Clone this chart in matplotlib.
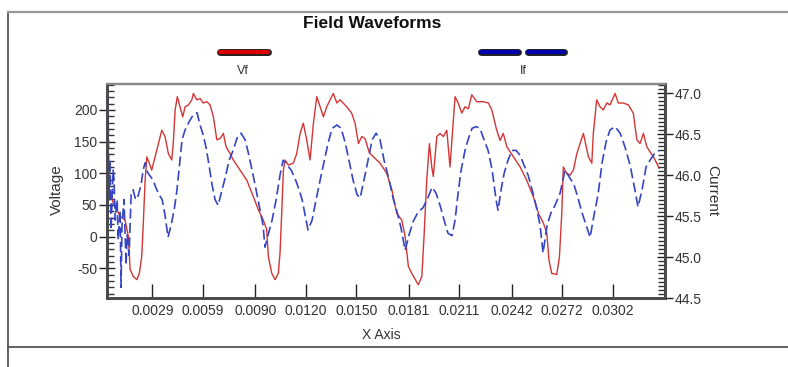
import numpy as np
import matplotlib
matplotlib.use("Agg")
import matplotlib.pyplot as plt
from matplotlib.lines import Line2D
from matplotlib.ticker import MultipleLocator, FormatStrFormatter
import matplotlib.patheffects as pe

plt.rcParams['font.family'] = ['Liberation Sans', 'DejaVu Sans']
plt.rcParams['axes.unicode_minus'] = False

# Vf (field voltage), time in ms
vf_time_ms = [0.21, 0.59, 0.99, 1.28, 1.48, 1.58, 1.77, 1.98, 2.13, 2.27, 2.37, 2.47, 2.57,
              2.72, 2.86, 3.06, 3.26, 3.46, 3.65, 3.85, 4.05, 4.15, 4.25, 4.38, 4.54, 4.70,
              4.84, 5.04, 5.24, 5.33, 5.53, 5.73, 5.92, 6.13, 6.32, 6.52, 6.72, 6.92, 7.11,
              7.27, 7.51, 7.70, 8.10, 8.50, 8.89, 9.19, 9.48, 9.68, 9.78, 9.98, 10.18, 10.37,
              10.47, 10.57, 10.67, 10.77, 10.97, 11.26, 11.46, 11.66, 11.85, 12.06, 12.25,
              12.45, 12.65, 12.85, 13.04, 13.24, 13.44, 13.63, 13.84, 14.03, 14.43, 14.72,
              14.92, 15.12, 15.32, 15.51, 15.71, 15.81, 16.40, 16.80, 17.10, 17.39, 17.69,
              17.89, 18.08, 18.28, 18.67, 18.88, 19.01, 19.17, 19.33, 19.47, 19.56, 19.77,
              19.96, 20.16, 20.36, 20.55, 20.71, 20.85, 21.05, 21.25, 21.44, 21.64, 21.84,
              22.14, 22.53, 22.83, 23.03, 23.32, 23.52, 23.71, 23.92, 24.31, 24.71, 25.10,
              25.49, 25.79, 26.09, 26.29, 26.42, 26.58, 26.88, 27.04, 27.18, 27.27, 27.47,
              27.67, 27.87, 28.07, 28.46, 28.76, 28.96, 29.05, 29.25, 29.45, 29.64, 29.85,
              30.04, 30.34, 30.53, 30.83, 31.13, 31.42, 31.63, 31.82, 32.02, 32.22, 32.41,
              32.61, 32.81, 32.95]
vf_volts = [79, 53, 32, 26, 0, -52, -63, -68, -58, -31, 26, 89, 126,
            116, 105, 126, 147, 168, 158, 131, 121, 152, 200, 221, 205, 189,
            205, 208, 216, 226, 216, 218, 211, 213, 208, 189, 153, 155, 163,
            142, 131, 121, 105, 89, 63, 42, 26, 11, -32, -58, -68, -58,
            -26, 37, 105, 121, 113, 116, 131, 163, 179, 152, 121,
            179, 221, 205, 189, 205, 216, 226, 211, 216, 205, 195,
            179, 147, 158, 155, 137, 131, 116, 100, 74, 37, 26,
            0, -47, -58, -76, -63, 0, 89, 147, 110, 95, 158,
            163, 158, 168, 110, 168, 221, 210, 195, 205, 202, 224,
            213, 213, 211, 200, 168, 152, 163, 142, 126, 110, 89,
            63, 37, 21, 6, -37, -58, -60, -32, 37, 110, 100,
            97, 105, 131, 163, 126, 116, 163, 216, 205, 200, 211,
            208, 226, 211, 211, 208, 195, 153, 147, 163, 142, 134,
            126, 116, 108]

# If (field current), time in ms
if_time_ms = [0.21, 0.27, 0.33, 0.39, 0.45, 0.57, 0.63, 0.69, 0.81, 0.87, 0.99, 1.04, 1.10,
              1.22, 1.34, 1.40, 1.52, 1.64, 1.76, 1.88, 1.99, 2.11, 2.23, 2.35, 2.47, 2.59,
              2.76, 2.94, 3.12, 3.30, 3.48, 3.65, 3.83, 4.01, 4.19, 4.36, 4.54, 4.66, 4.84,
              5.08, 5.31, 5.55, 5.73, 5.91, 6.09, 6.26, 6.44, 6.62, 6.80, 7.03, 7.21, 7.45,
              7.69, 7.92, 8.16, 8.40, 8.58, 8.81, 9.05, 9.29, 9.46, 9.58, 9.76, 10.00, 10.24,
              10.47, 10.65, 10.89, 11.13, 11.36, 11.60, 11.78, 11.96, 12.13, 12.37, 12.61,
              12.85, 13.08, 13.32, 13.56, 13.85, 14.09, 14.33, 14.56, 14.80, 15.04, 15.22,
              15.45, 15.69, 15.93, 16.17, 16.40, 16.64, 16.94, 17.17, 17.41, 17.65, 17.89,
              18.12, 18.36, 18.66, 18.95, 19.25, 19.49, 19.72, 19.96, 20.20, 20.43, 20.67,
              20.85, 21.03, 21.21, 21.44, 21.62, 21.86, 22.10, 22.33, 22.57, 22.81, 23.05,
              23.28, 23.40, 23.58, 23.76, 23.99, 24.23, 24.47, 24.71, 24.94, 25.18, 25.42,
              25.65, 25.89, 26.07, 26.31, 26.54, 26.78, 27.08, 27.37, 27.67, 27.91, 28.14,
              28.38, 28.62, 28.86, 29.09, 29.33, 29.57, 29.80, 30.04, 30.34, 30.64, 30.93,
              31.23, 31.46, 31.70, 31.94, 32.18, 32.41, 32.71, 32.95]
if_amps = [46.30, 46.98, 45.70, 46.18, 45.33, 46.06, 45.94, 45.45, 45.70, 45.21, 45.57, 44.63, 45.39,
           45.70, 44.90, 45.27, 45.02, 45.76, 45.82, 45.72, 45.70, 45.79, 45.88, 46.06, 46.15, 46.04,
           45.99, 45.94, 45.84, 45.76, 45.70, 45.51, 45.24, 45.39, 45.57, 45.82, 46.18, 46.43, 46.55,
           46.65, 46.73, 46.76, 46.61, 46.49, 46.33, 46.12, 45.88, 45.70, 45.63, 45.82, 45.96, 46.18,
           46.30, 46.45, 46.51, 46.43, 46.28, 46.06, 45.82, 45.57, 45.39, 45.12, 45.27, 45.45, 45.70,
           46.00, 46.18, 46.12, 46.06, 45.96, 45.82, 45.70, 45.51, 45.33, 45.45, 45.70,
           45.94, 46.16, 46.39, 46.57, 46.61, 46.57, 46.40, 46.18, 45.94, 45.76, 45.72,
           45.94, 46.18, 46.43, 46.51, 46.43, 46.18, 45.94, 45.72, 45.55, 45.35, 45.08,
           45.27, 45.43, 45.55, 45.60, 45.73, 45.85, 45.78, 45.63, 45.45, 45.29, 45.26,
           45.45, 45.78, 46.06, 46.30, 46.43, 46.57, 46.59, 46.57, 46.43, 46.30, 46.06,
           45.70, 45.57, 45.82, 46.02, 46.18, 46.30, 46.30, 46.24, 46.12, 46.00, 45.82,
           45.63, 45.39, 45.05, 45.39, 45.54, 45.63, 45.78, 46.06, 45.96, 45.88, 45.72,
           45.54, 45.39, 45.24, 45.51, 45.76, 46.15, 46.40, 46.55, 46.59, 46.51, 46.34,
           46.12, 45.88, 45.61, 45.82, 46.10, 46.18, 46.27, 46.30]

x_tick_labels = ['0.0029', '0.0059', '0.0090', '0.0120', '0.0150',
                 '0.0181', '0.0211', '0.0242', '0.0272', '0.0302']


def main():
    fig = plt.figure(figsize=(7.88, 3.67), dpi=100)
    ax = fig.add_axes([0.1358, 0.188, 0.7081, 0.5831])
    ax2 = ax.twinx()

    ax.plot(np.array(vf_time_ms) / 1000.0, vf_volts, color='#d43535', lw=1.0, zorder=3)
    ax2.plot(np.array(if_time_ms) / 1000.0, if_amps, color='#3545c4', lw=1.2,
             dashes=(6, 2.6), zorder=2)

    ax.set_xlim(0.00021, 0.0333)
    ax.set_ylim(-97, 241)
    ax2.set_ylim(44.5, 47.11)

    ax.set_xticks([float(s) for s in x_tick_labels])
    ax.set_xticklabels(x_tick_labels)
    ax.yaxis.set_major_locator(MultipleLocator(50))
    ax.yaxis.set_minor_locator(MultipleLocator(10))
    ax2.yaxis.set_major_locator(MultipleLocator(0.5))
    ax2.yaxis.set_minor_locator(MultipleLocator(0.05))
    ax2.yaxis.set_major_formatter(FormatStrFormatter('%.1f'))

    spine_col = '#4a4a4a'
    for a in (ax, ax2):
        for side in ('left', 'right', 'bottom'):
            a.spines[side].set_color(spine_col)
            a.spines[side].set_linewidth(2.0)
        a.spines['top'].set_color('#888888')
        a.spines['top'].set_linewidth(1.6)

    ax.tick_params(axis='x', direction='in', length=10, width=1.0, color='#222222',
                   labelsize=10, pad=4, labelcolor='#333333')
    ax.tick_params(axis='y', which='major', direction='inout', length=12, width=1.0,
                   color='#222222', labelsize=10, pad=1, labelcolor='#333333')
    ax.tick_params(axis='y', which='minor', direction='in', length=5, width=1.0, color='#333333')
    ax2.tick_params(axis='y', which='major', direction='inout', length=12, width=1.0,
                    color='#222222', labelsize=10, pad=1, labelcolor='#333333')
    ax2.tick_params(axis='y', which='minor', direction='in', length=5, width=1.0, color='#333333')

    fig.text(0.472, 0.937, 'Field Waveforms', ha='center', va='center',
             fontsize=12.5, fontweight='bold', color='#111111')
    fig.text(0.072, 0.482, 'Voltage', ha='center', va='center', rotation=90,
             fontsize=11, color='#333333')
    fig.text(0.904, 0.482, 'Current', ha='center', va='center', rotation=-90,
             fontsize=11, color='#333333')
    fig.text(0.4835, 0.088, 'X Axis', ha='center', va='center', fontsize=10, color='#333333')

    # legend: sample bars above labels
    W, H = 788.0, 367.0
    outline = [pe.Stroke(linewidth=5.0, foreground='#202020'), pe.Normal()]
    samples = [((220, 268), '#dd0000'), ((481, 518), '#0000b0'), ((528, 564), '#0000b0')]
    for (x0, x1), col in samples:
        fig.add_artist(Line2D([x0 / W, x1 / W], [1 - 52 / H, 1 - 52 / H], color=col, lw=3.0,
                              solid_capstyle='round', path_effects=outline))
    fig.text(243 / W, 1 - 71 / H, 'Vf', ha='center', va='center', fontsize=9, color='#333333')
    fig.text(523 / W, 1 - 71 / H, 'If', ha='center', va='center', fontsize=9, color='#333333')

    # outer frame
    frame_kw = dict(color='#555555', lw=1.3)
    fig.add_artist(Line2D([8 / W, 8 / W], [0, 1 - 12 / H], **frame_kw))
    fig.add_artist(Line2D([8 / W, 1], [1 - 12 / H, 1 - 12 / H], color='#999999', lw=1.6))
    fig.add_artist(Line2D([8 / W, 1], [1 - 347 / H, 1 - 347 / H], **frame_kw))

    fig.savefig('out.png', dpi=100)
    plt.close(fig)


if __name__ == "__main__":
    main()
